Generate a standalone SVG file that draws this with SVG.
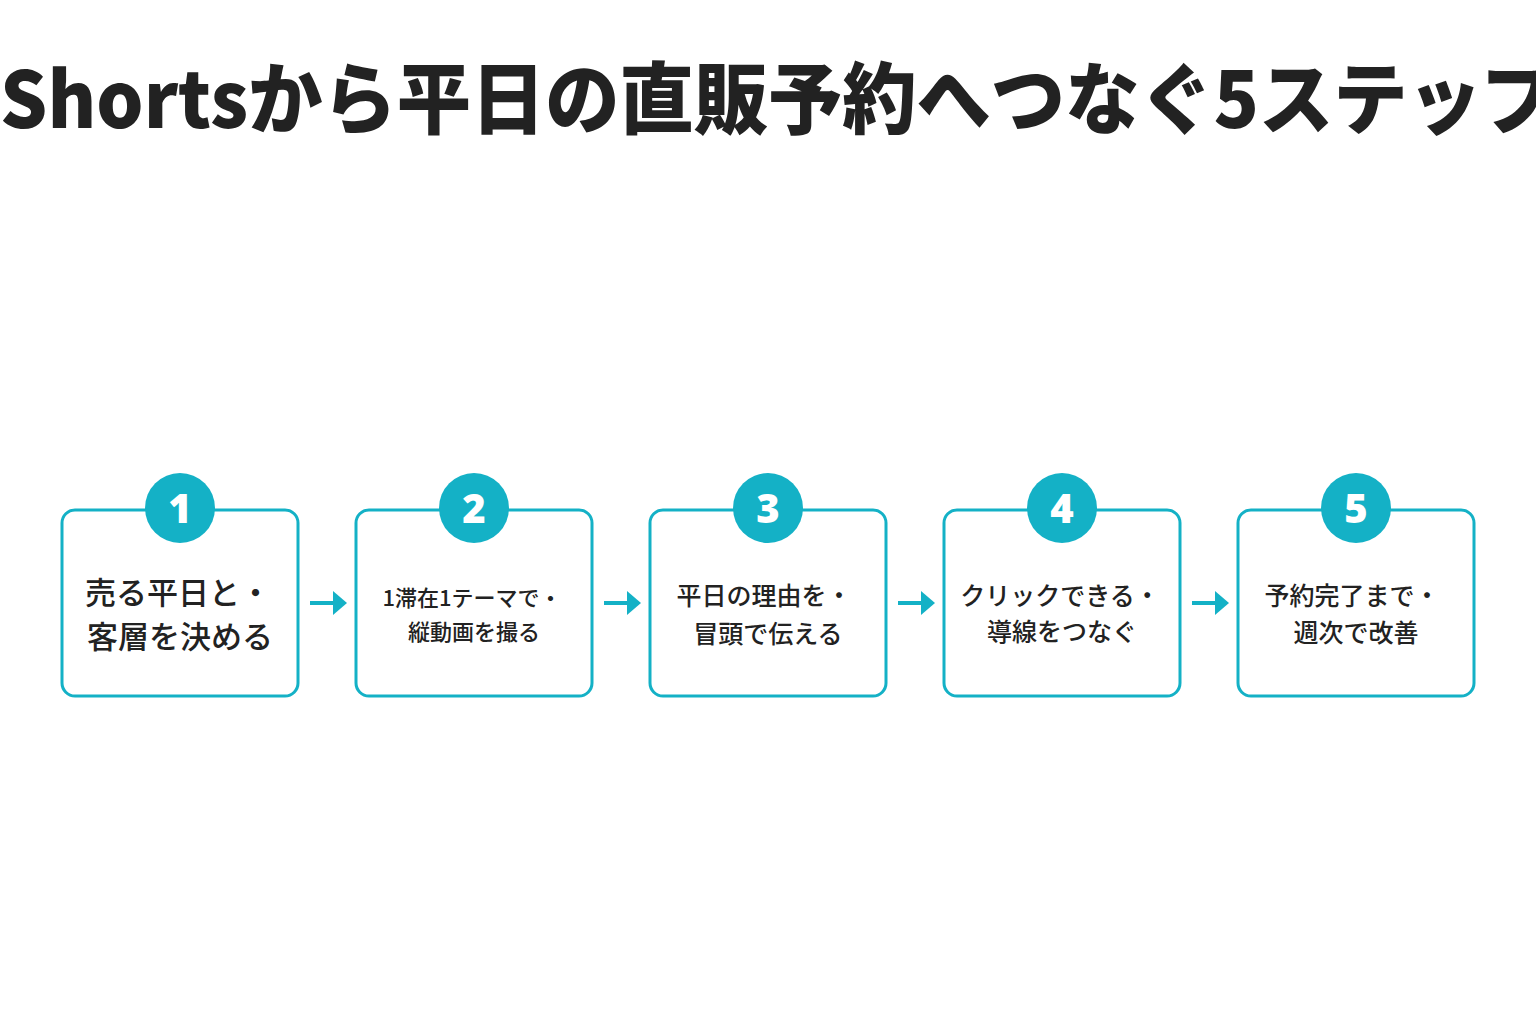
<svg xmlns="http://www.w3.org/2000/svg" width="1536" height="1024" viewBox="0 0 1536 1024">
<style>
.box{fill:#fff;stroke:#14B1C6;stroke-width:3}
.num{fill:#14B1C6}
.nt{font-family:"Noto Sans","Liberation Sans",sans-serif;font-weight:900;font-size:40px;fill:#fff;text-anchor:middle}
.t{font-family:"Noto Sans CJK JP",sans-serif;font-weight:500;fill:#222;text-anchor:middle}
.arr{stroke:#14B1C6;stroke-width:4;fill:none}
.ah{fill:#14B1C6}
</style>
<rect width="1536" height="1024" fill="#fff"/>
<text x="778" y="128" font-family="Noto Sans CJK JP, sans-serif" font-weight="900" font-size="78" fill="#222" text-anchor="middle" textLength="1556" lengthAdjust="spacingAndGlyphs">Shortsから平日の直販予約へつなぐ5ステップ</text>
<g id="connectors">
<line class="arr" x1="310" y1="603" x2="336" y2="603"/><polygon class="ah" points="333,591 347,603 333,615"/>
<line class="arr" x1="604" y1="603" x2="630" y2="603"/><polygon class="ah" points="627,591 641,603 627,615"/>
<line class="arr" x1="898" y1="603" x2="924" y2="603"/><polygon class="ah" points="921,591 935,603 921,615"/>
<line class="arr" x1="1192" y1="603" x2="1218" y2="603"/><polygon class="ah" points="1215,591 1229,603 1215,615"/>
</g>
<g id="step1"><rect class="box" x="62" y="510" width="236" height="186" rx="13"/><circle class="num" cx="180" cy="508" r="35"/><text class="nt" x="180" y="523">1</text>
<text class="t" font-size="31" x="178" y="604">売る平日と・</text><text class="t" font-size="31" x="180" y="648">客層を決める</text></g>
<g id="step2"><rect class="box" x="356" y="510" width="236" height="186" rx="13"/><circle class="num" cx="474" cy="508" r="35"/><text class="nt" x="474" y="523">2</text>
<text class="t" font-size="22" x="472" y="606">1滞在1テーマで・</text><text class="t" font-size="22" x="474" y="640">縦動画を撮る</text></g>
<g id="step3"><rect class="box" x="650" y="510" width="236" height="186" rx="13"/><circle class="num" cx="768" cy="508" r="35"/><text class="nt" x="768" y="523">3</text>
<text class="t" font-size="25" x="764" y="605">平日の理由を・</text><text class="t" font-size="25" x="768" y="643">冒頭で伝える</text></g>
<g id="step4"><rect class="box" x="944" y="510" width="236" height="186" rx="13"/><circle class="num" cx="1062" cy="508" r="35"/><text class="nt" x="1062" y="523">4</text>
<text class="t" font-size="25" x="1060" y="605">クリックできる・</text><text class="t" font-size="25" x="1062" y="641">導線をつなぐ</text></g>
<g id="step5"><rect class="box" x="1238" y="510" width="236" height="186" rx="13"/><circle class="num" cx="1356" cy="508" r="35"/><text class="nt" x="1356" y="523">5</text>
<text class="t" font-size="25" x="1352" y="605">予約完了まで・</text><text class="t" font-size="25" x="1356" y="642">週次で改善</text></g>
</svg>
